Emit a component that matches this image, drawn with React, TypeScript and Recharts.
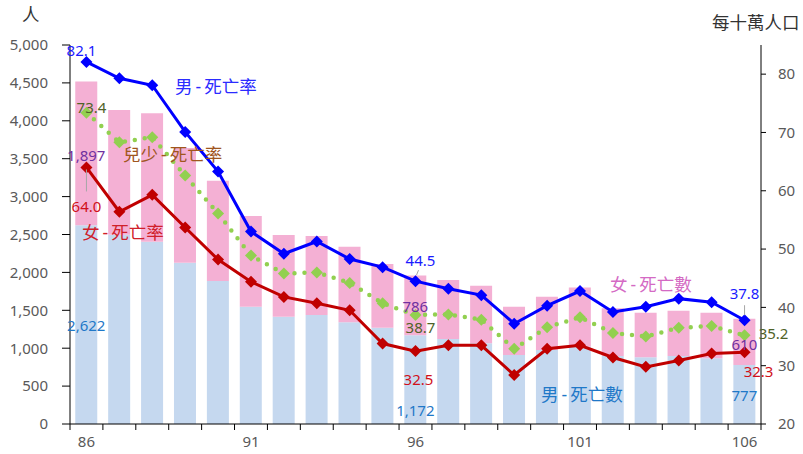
import React from "react"
import { ComposedChart, Bar, Line, XAxis, YAxis, LabelList } from "recharts"

const years = ["86", "87", "88", "89", "90", "91", "92", "93", "94", "95", "96", "97", "98", "99", "100", "101", "102", "103", "104", "105", "106"]
const maleDeaths = [2622, 2497, 2405, 2128, 1887, 1548, 1416, 1438, 1341, 1271, 1172, 1121, 1064, 910, 976, 1020, 897, 880, 897, 867, 777]
const femaleDeaths = [1897, 1645, 1694, 1513, 1323, 1196, 1077, 1042, 998, 840, 786, 779, 761, 638, 704, 780, 629, 589, 598, 602, 610]
const maleRate = [82.1, 79.3, 78.1, 70.1, 63.3, 53.0, 49.2, 51.3, 48.3, 46.9, 44.5, 43.2, 42.1, 37.2, 40.3, 42.8, 39.2, 40.1, 41.5, 40.9, 37.8]
const femaleRate = [64.0, 56.4, 59.3, 53.7, 48.2, 44.4, 41.8, 40.7, 39.5, 33.8, 32.5, 33.5, 33.5, 28.4, 32.9, 33.5, 31.4, 29.8, 30.9, 32.1, 32.3]
const childRate = [73.4, 68.3, 69.2, 62.6, 56.1, 48.9, 45.8, 46.0, 44.2, 40.7, 38.7, 38.8, 37.9, 32.9, 36.6, 38.3, 35.6, 35.0, 36.5, 36.8, 35.2]
const leftTicks = [0, 500, 1000, 1500, 2000, 2500, 3000, 3500, 4000, 4500, 5000]
const rightTicks = [20, 30, 40, 50, 60, 70, 80]

const data = years.map((year, i) => ({
  year,
  male: maleDeaths[i],
  female: femaleDeaths[i],
  maleRate: maleRate[i],
  femaleRate: femaleRate[i],
  childRate: childRate[i],
}))

const W = 803
const H = 454
const PLOT_LEFT = 70
const PLOT_RIGHT = 761
const BAND = (PLOT_RIGHT - PLOT_LEFT) / years.length
const FONT = "'Noto Sans', 'Noto Sans CJK TC', sans-serif"
const TICK_COLOR = "#595959"

// x axis: tick marks sit between categories, labels every 5 years
const XTick = (props: any) => {
  const { x, y, payload, index } = props
  return (
    <g>
      <line x1={x - BAND / 2} x2={x - BAND / 2} y1={y} y2={y + 6} stroke="#000" />
      {index === years.length - 1 && <line x1={x + BAND / 2} x2={x + BAND / 2} y1={y} y2={y + 6} stroke="#000" />}
      {index % 5 === 0 && (
        <text x={x} y={y + 17} textAnchor="middle" dominantBaseline="central" fill={TICK_COLOR} fontSize={15} fontFamily={FONT}>
          {payload.value}
        </text>
      )}
    </g>
  )
}

const Diamond = (color: string, r: number) => (props: any) => {
  const { cx, cy, index } = props
  if (cx == null || cy == null) return null
  return <polygon key={index} points={`${cx},${cy - r} ${cx + r},${cy} ${cx},${cy + r} ${cx - r},${cy}`} fill={color} />
}

type Off = { dx: number; dy: number; lead?: [number, number, number, number] }

const makeLabel = (color: string, offs: Record<number, Off>, fmt: (v: number) => string) => (props: any) => {
  const vb = props.viewBox || {}
  const x = props.x ?? vb.x
  const y = props.y ?? vb.y
  const w = props.width ?? vb.width ?? 0
  const h = props.height ?? vb.height ?? 0
  const o = offs[props.index]
  if (!o) return null
  const cx = x + w / 2
  const cy = y + h / 2
  return (
    <g>
      {o.lead && (
        <line x1={cx + o.lead[0]} y1={cy + o.lead[1]} x2={cx + o.lead[2]} y2={cy + o.lead[3]} stroke="#a6a6a6" strokeWidth={1} />
      )}
      <text x={cx + o.dx} y={cy + o.dy} fill={color} textAnchor="middle" dominantBaseline="central" fontSize={15} fontFamily={FONT}>
        {fmt(props.value)}
      </text>
    </g>
  )
}

const num = (v: number) => v.toLocaleString("en-US")
const dec = (v: number) => v.toFixed(1)

// series names drawn inside the plot; the hyphen gets extra room like the original
const seriesText = (text: string, color: string, left: number, top: number) => {
  const parts = text.split("-")
  return (
    <div style={{ position: "absolute", left, top, color, fontSize: 17.5, fontFamily: FONT, lineHeight: "20px", whiteSpace: "nowrap" }}>
      {parts[0]}
      {parts.length > 1 && <span style={{ margin: "0 3px" }}>-</span>}
      {parts[1]}
    </div>
  )
}

export default function App() {
  return (
    <div style={{ position: "absolute", left: 0, top: 0, width: W, height: H, background: "#fff" }}>
      <ComposedChart width={W} height={H} data={data} margin={{ top: 45, right: 0, bottom: 0, left: 0 }} barCategoryGap="16%">
        <XAxis
          dataKey="year"
          interval={0}
          tick={<XTick />}
          tickLine={false}
          tickSize={0}
          tickMargin={0}
          height={30}
          axisLine={{ stroke: "#000" }}
        />
        <YAxis
          yAxisId="left"
          width={70}
          domain={[0, 5000]}
          ticks={leftTicks}
          tickFormatter={num}
          tick={{ fill: TICK_COLOR, fontSize: 15, fontFamily: FONT }}
          tickSize={8}
          tickMargin={14}
          tickLine={{ stroke: "#000" }}
          axisLine={{ stroke: "#000" }}
        />
        <YAxis
          yAxisId="right"
          orientation="right"
          width={42}
          domain={[20, 85]}
          ticks={rightTicks}
          tick={{ fill: TICK_COLOR, fontSize: 15, fontFamily: FONT, textAnchor: "start" }}
          tickSize={5}
          tickMargin={12}
          tickLine={{ stroke: "#000" }}
          axisLine={{ stroke: "#000" }}
        />
        <Bar yAxisId="left" dataKey="male" stackId="d" fill="#c5d8ef" isAnimationActive={false}>
          <LabelList
            dataKey="male"
            content={makeLabel("#1f78c8", { 0: { dx: 0, dy: 0 }, 10: { dx: 0, dy: 30 }, 20: { dx: 0, dy: 0 } }, num)}
          />
        </Bar>
        <Bar yAxisId="left" dataKey="female" stackId="d" fill="#f4b0d4" isAnimationActive={false}>
          <LabelList
            dataKey="female"
            content={makeLabel("#7030a0", { 0: { dx: 0, dy: 2 }, 10: { dx: 0, dy: 1 }, 20: { dx: 0, dy: 2 } }, num)}
          />
        </Bar>
        <Line
          yAxisId="right"
          dataKey="childRate"
          stroke="#92d050"
          strokeWidth={4.5}
          strokeDasharray="0 10"
          strokeLinecap="round"
          dot={Diamond("#92d050", 6)}
          activeDot={false}
          isAnimationActive={false}
        >
          <LabelList
            dataKey="childRate"
            content={makeLabel("#4f6228", { 0: { dx: 5, dy: -6 }, 10: { dx: 5, dy: 12 }, 20: { dx: 29, dy: -2 } }, dec)}
          />
        </Line>
        <Line
          yAxisId="right"
          dataKey="femaleRate"
          stroke="#c00000"
          strokeWidth={3}
          dot={Diamond("#c00000", 6)}
          activeDot={false}
          isAnimationActive={false}
        >
          <LabelList
            dataKey="femaleRate"
            content={makeLabel(
              "#d0101a",
              { 0: { dx: 0, dy: 39, lead: [0, 2, 0, 24] }, 10: { dx: 3, dy: 28 }, 20: { dx: 14, dy: 19 } },
              dec
            )}
          />
        </Line>
        <Line
          yAxisId="right"
          dataKey="maleRate"
          stroke="#0000ff"
          strokeWidth={3}
          dot={Diamond("#0000ff", 6)}
          activeDot={false}
          isAnimationActive={false}
        >
          <LabelList
            dataKey="maleRate"
            content={makeLabel(
              "#1a1aff",
              {
                0: { dx: -5, dy: -12 },
                10: { dx: 5, dy: -21, lead: [1, -6, 3, -11] },
                20: { dx: 0, dy: -27, lead: [0, -5, 0, -15] },
              },
              dec
            )}
          />
        </Line>
      </ComposedChart>
      {seriesText("人", "#333", 22, 4)}
      {seriesText("每十萬人口", "#333", 712, 12)}
      {seriesText("男-死亡率", "#2b2bff", 175, 76)}
      {seriesText("兒少-死亡率", "#a0561e", 123, 144)}
      {seriesText("女-死亡率", "#d0202a", 82, 222)}
      {seriesText("女-死亡數", "#d46ac4", 610, 274)}
      {seriesText("男-死亡數", "#1f78c8", 541, 384)}
    </div>
  )
}
